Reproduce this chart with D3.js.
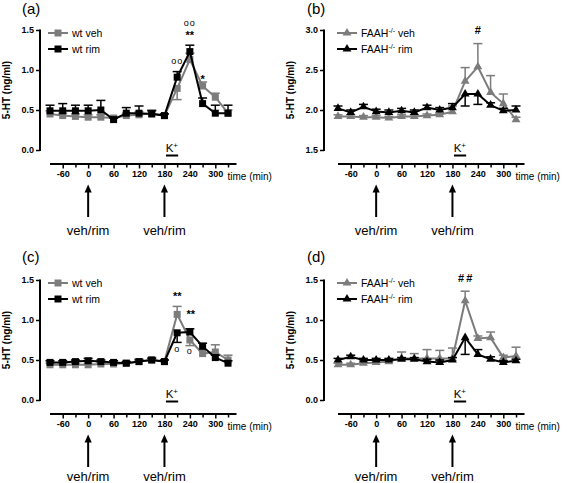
<!DOCTYPE html>
<html><head><meta charset="utf-8">
<script src="https://cdn.jsdelivr.net/npm/d3@7/dist/d3.min.js"></script>
<style>body{margin:0;background:#fff}svg{display:block;font-family:"Liberation Sans",Arial,sans-serif}</style>
</head><body><svg id="c" width="567" height="483"></svg>
<script>
// ---- data ----
const times = [-90,-60,-30,0,30,60,90,120,150,180,210,240,270,300,330];
const xTicks = [-60,-30,0,30,60,90,120,150,180,210,240,270,300,330];
const xTickLabels = [-60,0,60,120,180,240,300];
const arrowTimes = [0,180];
const kWindow = [180,210];

const wtYTicks = [0.0,0.5,1.0,1.5];
const faahTopYTicks = [1.5,2.0,2.5,3.0];

// SEM arrays: positive = error bar drawn above the mean, negative = drawn below
// (a) wt
const aVeh    = [0.45,0.43,0.42,0.41,0.41,0.40,0.43,0.44,0.46,0.43,0.77,1.13,0.80,0.66,0.46];
const aVehSem = [0.04,0.03,0.03,0.03,0.03,0.02,0.03,0.04,0.04,0.02,-0.14,0.08,0.05,0.05,0.04];
const aRim    = [0.49,0.49,0.49,0.49,0.50,0.38,0.46,0.46,0.45,0.43,0.91,1.23,0.58,0.46,0.46];
const aRimSem = [0.07,0.09,0.07,0.07,0.12,0.02,0.07,0.09,0.04,0.02,0.07,0.08,0.07,0.10,0.10];
// (b) FAAH-/-
const bVeh    = [1.92,1.92,1.91,1.91,1.90,1.92,1.92,1.93,1.94,1.98,2.36,2.54,2.22,2.08,1.88];
const bVehSem = [0.02,0.02,0.02,0.02,0.02,0.02,0.02,0.02,0.02,0.07,0.17,0.29,0.21,0.12,0.03];
const bRim    = [2.02,1.97,2.04,1.98,1.97,1.99,1.97,2.03,2.00,2.03,2.20,2.20,2.06,1.99,2.00];
const bRimSem = [0.03,0.03,0.03,0.03,0.03,0.03,0.03,0.03,0.03,0.05,-0.15,-0.13,0.03,0.03,0.05];
// (c) wt
const cVeh    = [0.44,0.44,0.44,0.44,0.45,0.45,0.46,0.48,0.50,0.48,1.07,0.75,0.58,0.60,0.50];
const cVehSem = [0.02,0.02,0.02,0.02,0.02,0.02,0.02,0.03,0.03,0.02,0.10,-0.07,0.04,0.09,0.06];
const cRim    = [0.47,0.47,0.48,0.49,0.48,0.47,0.46,0.48,0.50,0.48,0.84,0.85,0.67,0.53,0.46];
const cRimSem = [0.02,0.02,0.02,0.03,0.02,0.02,0.02,0.02,0.02,0.02,-0.12,0.04,0.04,0.03,0.03];
// (d) FAAH-/-
const dVeh    = [0.44,0.44,0.46,0.47,0.48,0.52,0.52,0.52,0.52,0.52,1.24,0.77,0.78,0.53,0.55];
const dVehSem = [0.02,0.02,0.03,0.03,0.03,0.08,0.06,0.11,0.10,0.13,0.12,0.03,0.07,0.03,0.11];
const dRim    = [0.50,0.54,0.50,0.50,0.50,0.51,0.51,0.48,0.47,0.50,0.78,0.57,0.51,0.47,0.49];
const dRimSem = [0.02,0.02,0.02,0.02,0.02,0.02,0.02,0.03,0.03,0.03,-0.21,0.06,0.03,0.02,0.02];

// annotations: [time, value-position, text]
const aMarks = [[210,1.07,"oo"],[240,1.55,"oo"],[240,1.39,"**"],[270,0.84,"*"]];
const bMarks = [[240,2.95,"#"]];
const cMarks = [[210,1.25,"**"],[242,1.02,"**"],[210,0.60,"o"],[240,0.575,"o"]];
const dMarks = [[210,1.47,"##"]];

const GRAY = "#7c7c7c";
const panels = [
  {label:"(a)", geno:"wt", sym:d3.symbolSquare, yDom:[0,1.5], yTicks:wtYTicks, veh:aVeh, vehSem:aVehSem, rim:aRim, rimSem:aRimSem, marks:aMarks, ox:0, oy:0},
  {label:"(b)", geno:"FAAH", sym:d3.symbolTriangle, yDom:[1.5,3.0], yTicks:faahTopYTicks, veh:bVeh, vehSem:bVehSem, rim:bRim, rimSem:bRimSem, marks:bMarks, ox:284, oy:0},
  {label:"(c)", geno:"wt", sym:d3.symbolSquare, yDom:[0,1.5], yTicks:wtYTicks, veh:cVeh, vehSem:cVehSem, rim:cRim, rimSem:cRimSem, marks:cMarks, ox:0, oy:250},
  {label:"(d)", geno:"FAAH", sym:d3.symbolTriangle, yDom:[0,1.5], yTicks:wtYTicks, veh:dVeh, vehSem:dVehSem, rim:dRim, rimSem:dRimSem, marks:dMarks, ox:284, oy:250}
];

const svg = d3.select("#c");

panels.forEach((p,pi) => {
  const g = svg.append("g").attr("transform",`translate(${p.ox},${p.oy})`);
  const yAxX = 40;
  const x0 = p.geno==="wt" ? 50 : 54;
  const x = d3.scaleLinear().domain([-90,350]).range([x0, x0+186.5]);
  const y = d3.scaleLinear().domain(p.yDom).range([150,30]);
  const xAxY = 164;
  const bottomRow = p.oy !== 0;

  // title
  g.append("text").attr("x",p.geno==="wt"?22:23).attr("y",bottomRow?12:14).attr("font-size",15).text(p.label);

  // y axis
  const ya = g.append("g").attr("transform",`translate(${yAxX},0)`)
    .call(d3.axisLeft(y).tickValues(p.yTicks).tickFormat(d3.format(".1f")).tickSize(4).tickPadding(2));
  ya.select(".domain").attr("stroke","#000").attr("stroke-width",2).attr("d",`M0,${y.range()[1]-0.5}V${y.range()[0]+1}`);
  ya.selectAll(".tick line").attr("stroke-width",1.5);
  ya.selectAll(".tick text").attr("font-size",9).attr("font-weight","bold").attr("font-family","Liberation Sans, Arial, sans-serif");

  g.append("text").attr("transform",`translate(10,90) rotate(-90)`).attr("text-anchor","middle")
    .attr("font-size",10).attr("font-weight","bold").text("5-HT (ng/ml)");

  // x axis
  const xa = g.append("g").attr("transform",`translate(0,${xAxY})`)
    .call(d3.axisBottom(x).tickValues(xTicks).tickFormat(d => xTickLabels.includes(d)? d : "").tickSizeOuter(0)
      .tickSize(4).tickPadding(3));
  xa.select(".domain").attr("stroke-width",2).attr("d",`M${x(-90)},0H${x(350)}`);
  xa.selectAll(".tick line").attr("stroke-width",1.5).attr("y2", d => xTickLabels.includes(d)?4.5:3.5);
  xa.selectAll(".tick text").attr("font-size",9).attr("font-weight","bold").attr("font-family","Liberation Sans, Arial, sans-serif");
  g.append("text").attr("x",x(350)-9).attr("y",xAxY+16).attr("font-size",10).text("time (min)");

  // K+ label
  const kBase = bottomRow ? 148 : 152;
  const kx = (x(kWindow[0])+x(kWindow[1]))/2 + 1;
  const kt = g.append("text").attr("x",kx).attr("y",kBase).attr("text-anchor","middle").attr("font-size",11.5);
  kt.append("tspan").text("K");
  kt.append("tspan").attr("dy",-4).attr("font-size",8).text("+");
  g.append("line").attr("x1",x(kWindow[0])+1.5).attr("x2",x(kWindow[1])+1).attr("y1",kBase+3.5).attr("y2",kBase+3.5)
    .attr("stroke","#000").attr("stroke-width",2);

  // arrows
  arrowTimes.forEach(t => {
    const ax = x(t);
    g.append("line").attr("x1",ax).attr("x2",ax).attr("y1",190).attr("y2",217).attr("stroke","#000").attr("stroke-width",2);
    g.append("path").attr("d",`M${ax},184.5L${ax+3.6},192.5L${ax-3.6},192.5Z`).attr("fill","#000");
    g.append("text").attr("x",ax).attr("y",bottomRow?231:235).attr("text-anchor","middle").attr("font-size",13).text("veh/rim");
  });

  // series
  const series = [
    {v:p.veh, s:p.vehSem, c:GRAY, name:"veh"},
    {v:p.rim, s:p.rimSem, c:"#000", name:"rim"}
  ];
  const line = d3.line().x((d,i)=>x(times[i])).y(d=>y(d));
  const symSize = p.sym===d3.symbolSquare ? 49 : 34;
  series.forEach(se => {
    const sg = g.append("g");
    // error bars (one direction)
    times.forEach((t,i) => {
      const cx = x(t), y0 = y(se.v[i]), ye = y(se.v[i]+se.s[i]);
      sg.append("line").attr("x1",cx).attr("x2",cx).attr("y1",y0).attr("y2",ye).attr("stroke",se.c).attr("stroke-width",1.5);
      sg.append("line").attr("x1",cx-4.5).attr("x2",cx+4.5).attr("y1",ye).attr("y2",ye)
        .attr("stroke",se.c).attr("stroke-width",1.5);
    });
    sg.append("path").attr("d",line(se.v)).attr("fill","none").attr("stroke",se.c).attr("stroke-width",2);
    sg.selectAll(".m").data(se.v).enter().append("path")
      .attr("transform",(d,i)=>`translate(${x(times[i])},${y(d)})`)
      .attr("d",d3.symbol().type(p.sym).size(symSize)()).attr("fill",se.c);
  });

  // annotations
  p.marks.forEach(m => {
    const isO = m[2].startsWith("o");
    const isHash = m[2] === "##";
    g.append("text").attr("x",x(m[0]) + (isHash?1:0)).attr("y",y(m[1])).attr("text-anchor","middle")
      .attr("font-size",isO?9:11).attr("font-weight",isO?"normal":"bold")
      .attr("letter-spacing",isO?1:(isHash?2:0)).text(m[2]);
  });

  // legend
  const lx = p.geno==="wt" ? 48 : 53;
  series.forEach((se,i) => {
    const ly = 33 + i*16;
    g.append("line").attr("x1",lx).attr("x2",lx+20).attr("y1",ly).attr("y2",ly).attr("stroke",se.c).attr("stroke-width",2);
    g.append("path").attr("transform",`translate(${lx+10},${ly})`).attr("d",d3.symbol().type(p.sym).size(symSize)()).attr("fill",se.c);
    const tx = g.append("text").attr("x",lx+24).attr("y",ly+3.5).attr("font-size",10.5);
    if (p.geno==="wt") tx.text("wt " + se.name);
    else {
      tx.append("tspan").text("FAAH");
      tx.append("tspan").attr("dy",-4).attr("font-size",7).text("-/-");
      tx.append("tspan").attr("dy",4).text(" " + se.name);
    }
  });
});
</script>
</body></html>
